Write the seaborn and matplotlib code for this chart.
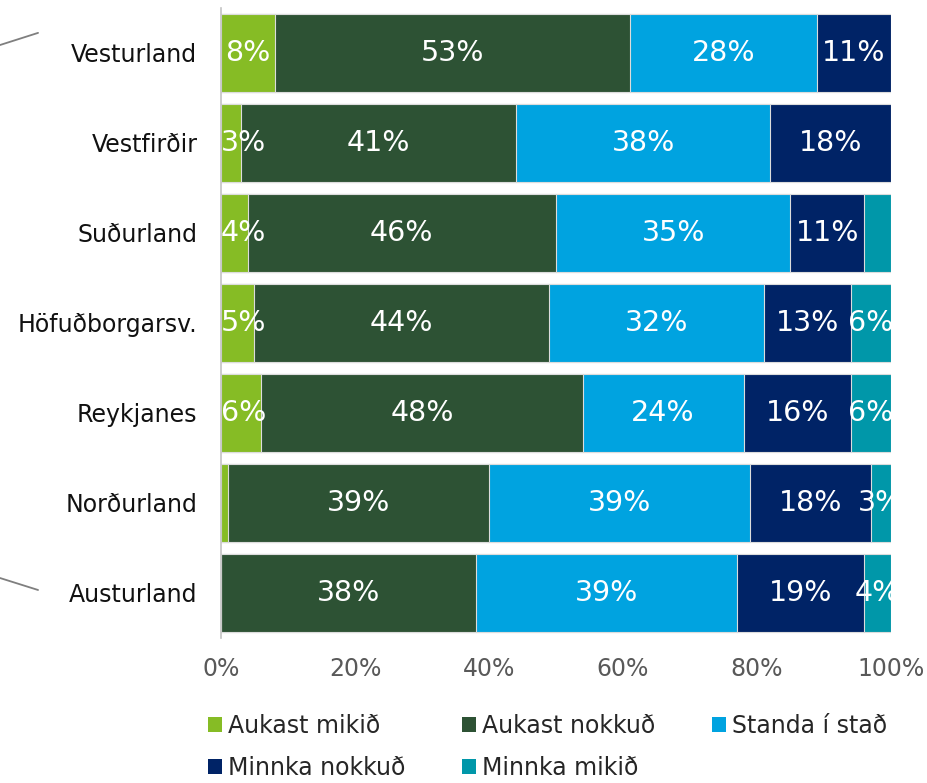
import matplotlib
matplotlib.use("Agg")
import matplotlib.pyplot as plt
from matplotlib.lines import Line2D
from matplotlib.patches import Patch
import numpy as np
import pandas as pd
import seaborn as sns

# Regions (top to bottom) and answer categories
regions = ["Vesturland", "Vestfirðir", "Suðurland", "Höfuðborgarsv.",
           "Reykjanes", "Norðurland", "Austurland"]
series = ["Aukast mikið", "Aukast nokkuð", "Standa í stað",
          "Minnka nokkuð", "Minnka mikið"]

# Share of answers (%) per region
aukast_mikid = [8, 3, 4, 5, 6, 1, 0]
aukast_nokkud = [53, 41, 46, 44, 48, 39, 38]
standa_i_stad = [28, 38, 35, 32, 24, 39, 39]
minnka_nokkud = [11, 18, 11, 13, 16, 18, 19]
minnka_mikid = [0, 0, 4, 6, 6, 3, 4]

colors = ["#86BC25", "#2D5234", "#00A3E0", "#002366", "#0097A9"]

# Segments whose value is not printed on the bar
unlabelled = {("Suðurland", "Minnka mikið")}
min_label = 3

sns.set_theme(style="white")
plt.rcParams["font.family"] = ["DejaVu Sans"]

values = np.array([aukast_mikid, aukast_nokkud, standa_i_stad,
                   minnka_nokkud, minnka_mikid], dtype=float)
cum = np.cumsum(values, axis=0)

fig = plt.figure(figsize=(9.28, 7.83), dpi=100)
ax = fig.add_axes([0.2381, 0.1852, 0.7220, 0.8052])

# Stacked bars: draw cumulative totals from the right-most segment inwards
for i in range(len(series) - 1, -1, -1):
    df = pd.DataFrame({"region": regions, "total": cum[i]})
    sns.barplot(data=df, x="total", y="region", order=regions, orient="h",
                color=colors[i], saturation=1, width=0.865,
                edgecolor="#dcdcdc", linewidth=0.8, ax=ax)

# Percentage labels centred in each segment; labels near the left edge are
# nudged inwards, labels at the right edge are clipped by the plot area
for i, name in enumerate(series):
    for j, reg in enumerate(regions):
        v = values[i, j]
        if v < min_label or (reg, name) in unlabelled:
            continue
        centre = max(cum[i, j] - v / 2, 3.4)
        ax.text(centre, j, f"{int(v)}%", ha="center", va="center",
                color="white", fontsize=20.5, clip_on=True)

ax.set_xlim(0, 100)
ax.set_ylim(6.5, -0.5)
ax.set_xticks(np.arange(0, 101, 20))
ax.set_xticklabels([f"{t}%" for t in range(0, 101, 20)])
ax.set_xlabel("")
ax.set_ylabel("")
ax.tick_params(axis="x", length=0, pad=14, labelsize=17, labelcolor="#595959")
ax.tick_params(axis="y", length=0, pad=17, labelsize=17, labelcolor="#111111")
for s in ["top", "right", "bottom"]:
    ax.spines[s].set_visible(False)
ax.spines["left"].set_color("#c4c4c4")
ax.spines["left"].set_linewidth(1.2)
ax.grid(False)

# Leader lines at the left edge
fig.add_artist(Line2D([0.0, 0.041], [0.9425, 0.958], transform=fig.transFigure,
                      color="#7f7f7f", lw=1.3))
fig.add_artist(Line2D([0.0, 0.041], [0.2618, 0.2465], transform=fig.transFigure,
                      color="#7f7f7f", lw=1.3))

# Legend laid out row by row (matplotlib fills columns first)
patches = [Patch(facecolor=c, edgecolor="none") for c in colors]
order = [0, 3, 1, 4, 2]
fig.legend([patches[k] for k in order], [series[k] for k in order],
           loc="upper left", bbox_to_anchor=(0.2241, 0.0880),
           ncol=3, frameon=False, fontsize=17, handlelength=0.6,
           handleheight=0.6, handletextpad=0.25, columnspacing=2.4,
           labelspacing=0.75, borderpad=0, borderaxespad=0)

fig.savefig("out.png", dpi=100)
